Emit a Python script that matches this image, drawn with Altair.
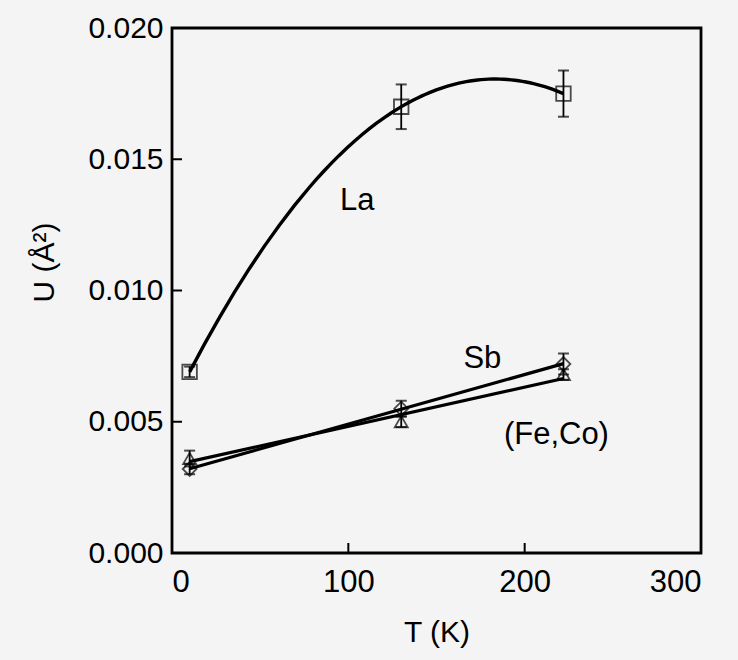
import altair as alt
import pandas as pd

# ---- data ----
T = [10, 130, 222]
la_u = [0.0069, 0.0170, 0.0175]
la_err = [0.0002, 0.00085, 0.00088]
sb_u = [0.0032, 0.0055, 0.0072]
sb_err = [0.0002, 0.0003, 0.0004]
feco_u = [0.0036, 0.0050, 0.0068]
feco_err = [0.0003, 0.0002, 0.0002]

x_tick_vals = [0, 100, 200, 300]
y_tick_vals = [0.0, 0.005, 0.010, 0.015, 0.020]

label_text = ["La", "Sb", "(Fe,Co)"]
label_T = [105, 176, 218]
label_U = [0.0134, 0.0074, 0.0045]

FONT = "Liberation Sans"
W, H = 529, 525

rows = []
for name, us, es in [("La", la_u, la_err), ("Sb", sb_u, sb_err), ("FeCo", feco_u, feco_err)]:
    for t, u, e in zip(T, us, es):
        rows.append({"series": name, "T": t, "U": u, "lo": u - e, "hi": u + e})
df = pd.DataFrame(rows)

xs = alt.Scale(domain=[0, 300], nice=False, zero=False)
ys = alt.Scale(domain=[0, 0.02], nice=False, zero=False)

x_axis = alt.Axis(values=x_tick_vals, format="d", ticks=False, domain=False, grid=False,
                  labelFont=FONT, labelFontSize=31, labelColor="black", labelPadding=14,
                  title="T (K)", titleFont=FONT, titleFontSize=30, titleFontWeight="normal",
                  titleColor="black", titlePadding=20)
y_axis = alt.Axis(values=y_tick_vals, format=".3f", ticks=False, domain=False, grid=False,
                  labelFont=FONT, labelFontSize=30, labelColor="black", labelPadding=9,
                  title="U (Å²)", titleFont=FONT, titleFontSize=30, titleFontWeight="normal",
                  titleColor="black", titlePadding=28, titleY=234)

base = alt.Chart(df)

axes_layer = base.mark_point(opacity=0).encode(
    x=alt.X("T:Q", scale=xs, axis=x_axis),
    y=alt.Y("U:Q", scale=ys, axis=y_axis),
)

la_curve = alt.Chart(df).transform_filter(alt.datum.series == "La").transform_regression(
    "T", "U", method="poly", order=2, extent=[T[0], T[-1]]
).mark_line(color="black", strokeWidth=3.4).encode(
    x=alt.X("T:Q", scale=xs), y=alt.Y("U:Q", scale=ys)
)

lin_lines = alt.Chart(df).transform_filter(alt.datum.series != "La").transform_regression(
    "T", "U", groupby=["series"], method="linear", extent=[T[0], T[-1]]
).mark_line(color="black", strokeWidth=3.2).encode(
    x=alt.X("T:Q", scale=xs), y=alt.Y("U:Q", scale=ys), detail="series:N"
)

err_rules = base.mark_rule(color="black", strokeWidth=1.8).encode(
    x=alt.X("T:Q", scale=xs), y=alt.Y("lo:Q", scale=ys), y2="hi:Q"
)
cap_hi = base.mark_tick(color="black", orient="horizontal", size=11, thickness=2).encode(
    x=alt.X("T:Q", scale=xs), y=alt.Y("hi:Q", scale=ys)
)
cap_lo = base.mark_tick(color="black", orient="horizontal", size=11, thickness=2).encode(
    x=alt.X("T:Q", scale=xs), y=alt.Y("lo:Q", scale=ys)
)

markers = base.mark_point(filled=False, color="black", strokeWidth=1.8).encode(
    x=alt.X("T:Q", scale=xs),
    y=alt.Y("U:Q", scale=ys),
    shape=alt.Shape("series:N",
                    scale=alt.Scale(domain=["La", "Sb", "FeCo"],
                                    range=["square", "diamond", "triangle-up"]),
                    legend=None),
    size=alt.Size("series:N",
                  scale=alt.Scale(domain=["La", "Sb", "FeCo"], range=[210, 170, 160]),
                  legend=None),
)

ytick_df = pd.DataFrame({"v": y_tick_vals})
ytick_rules = alt.Chart(ytick_df).mark_rule(color="black", strokeWidth=2).encode(
    y=alt.Y("v:Q", scale=ys), x=alt.value(0), x2=alt.value(10)
)
xtick_df = pd.DataFrame({"v": x_tick_vals})
xtick_rules = alt.Chart(xtick_df).mark_rule(color="black", strokeWidth=2).encode(
    x=alt.X("v:Q", scale=xs), y=alt.value(H), y2=alt.value(H - 10)
)

lab_df = pd.DataFrame({"text": label_text, "T": label_T, "U": label_U})
labels = alt.Chart(lab_df).mark_text(font=FONT, fontSize=31, color="black", align="center",
                                     baseline="middle").encode(
    x=alt.X("T:Q", scale=xs), y=alt.Y("U:Q", scale=ys), text="text:N"
)

chart = alt.layer(
    axes_layer, la_curve, lin_lines, err_rules, cap_hi, cap_lo, markers,
    ytick_rules, xtick_rules, labels
).properties(
    width=W, height=H,
    autosize=alt.AutoSizeParams(type="none"),
    padding={"left": 172, "top": 28, "right": 37, "bottom": 107},
    background="#f4f4f4",
).configure_view(
    stroke="black", strokeWidth=2.8, fill="#f4f4f4"
)

chart.save("out.html", embed_options={"renderer": "svg", "actions": False})
